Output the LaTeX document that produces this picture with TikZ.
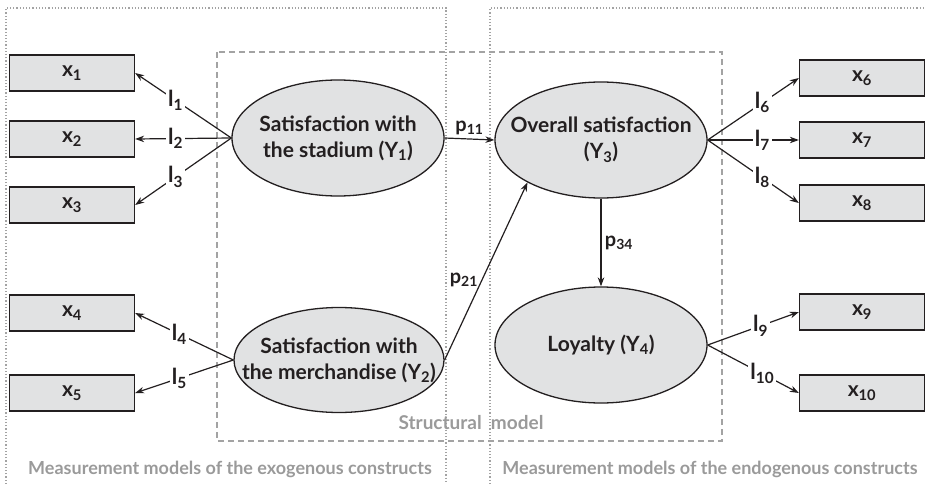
\documentclass[tikz,border=0pt]{standalone}
\usepackage{fontspec}
\setmainfont{Lato}
\usepackage{xcolor}
\usepackage{tikz}
\usetikzlibrary{shapes.geometric, arrows.meta, positioning}

\definecolor{boxgray}{HTML}{E1E2E3}
\definecolor{linegray}{HTML}{A3A3A3}
\definecolor{textgray}{HTML}{9A9A9A}
\definecolor{ink}{HTML}{231F20}

\begin{document}
\begin{tikzpicture}[
  x=1pt, y=-1pt,
  indicator/.style={rectangle, draw=ink, line width=1.3pt, fill=boxgray, minimum width=125pt, minimum height=36pt, font=\fontsize{21}{23}\selectfont\bfseries, text=ink},
  construct/.style={ellipse, draw=ink, line width=1.3pt, fill=boxgray, minimum width=212pt, minimum height=116pt, align=center, font=\fontsize{21}{26}\selectfont\bfseries, text=ink, inner xsep=-40pt, inner ysep=-15pt},
  arrow/.style={line width=1.2pt, draw=ink, ->, >={Stealth[length=9pt,width=6.5pt]}},
  loading/.style={fill=white, inner sep=2pt, font=\fontsize{22}{24}\selectfont\bfseries, text=ink},
  coef/.style={font=\fontsize{20}{22}\selectfont\bfseries, text=ink},
  note/.style={font=\fontsize{18}{20}\selectfont\bfseries, text=textgray}
]

\useasboundingbox (0,0) rectangle (926,484);

% measurement and structural frames
\draw[linegray, line width=1.2pt, dotted] (6,484) -- (6,8) -- (446,8) -- (446,484);
\draw[linegray, line width=1.2pt, dotted] (490,484) -- (490,8) -- (926,8);
\draw[linegray, line width=1.2pt, dash pattern=on 6pt off 4pt] (217,52) rectangle (722,441);

% latent constructs
\node (Y1) [construct] at (338,138) {Satisfaction with\\the stadium (Y\textsubscript{1})};
\node (Y2) [construct, minimum width=210pt, minimum height=105pt] at (339,360) {Satisfaction with\\the merchandise (Y\textsubscript{2})};
\node (Y3) [construct] at (601,140) {Overall satisfaction\\(Y\textsubscript{3})};
\node (Y4) [construct] at (601,345) {Loyalty (Y\textsubscript{4})};

% indicators
\node (x1) [indicator] at (72,73) {x\textsubscript{1}};
\node (x2) [indicator] at (72,139) {x\textsubscript{2}};
\node (x3) [indicator] at (72,205) {x\textsubscript{3}};
\node (x4) [indicator] at (72,313) {x\textsubscript{4}};
\node (x5) [indicator] at (72,393) {x\textsubscript{5}};
\node (x6) [indicator] at (862,78) {x\textsubscript{6}};
\node (x7) [indicator] at (862,140) {x\textsubscript{7}};
\node (x8) [indicator] at (862,203) {x\textsubscript{8}};
\node (x9) [indicator] at (862,312) {x\textsubscript{9}};
\node (x10) [indicator] at (862,393) {x\textsubscript{10}};

% loadings
\draw [arrow] (Y1.west) -- node[loading, pos=0.58] {l\textsubscript{1}} (x1.east);
\draw [arrow] (Y1.west) -- node[loading, pos=0.58] {l\textsubscript{2}} (x2.east);
\draw [arrow] (Y1.west) -- node[loading, pos=0.58] {l\textsubscript{3}} (x3.east);
\draw [arrow] (Y2.west) -- node[loading, pos=0.55] {l\textsubscript{4}} (x4.east);
\draw [arrow] (Y2.west) -- node[loading, pos=0.55] {l\textsubscript{5}} (x5.east);
\draw [arrow] (Y3.east) -- node[loading, pos=0.6] {l\textsubscript{6}} (x6.west);
\draw [arrow] (Y3.east) -- node[loading, pos=0.6] {l\textsubscript{7}} (x7.west);
\draw [arrow] (Y3.east) -- node[loading, pos=0.6] {l\textsubscript{8}} (x8.west);
\draw [arrow] (Y4.east) -- node[loading, pos=0.58] {l\textsubscript{9}} (x9.west);
\draw [arrow] (Y4.east) -- node[loading, pos=0.6] {l\textsubscript{10}} (x10.west);

% paths
\draw [arrow] (Y1.east) -- node[coef, above] {p\textsubscript{11}} (Y3.west);
\draw [arrow] (Y2.east) -- node[coef, left, pos=0.45] {p\textsubscript{21}} (Y3.-150);
\draw [arrow] (Y3.south) -- node[coef, right] {p\textsubscript{34}} (Y4.north);

% frame captions
\node (smodel) [note, font=\fontsize{19}{21}\selectfont\bfseries] at (471,423) {Structural\ \ model};
\node (exo) [note] at (230,469) {Measurement models of the exogenous constructs};
\node (endo) [note] at (710,469) {Measurement models of the endogenous constructs};

\end{tikzpicture}
\end{document}
